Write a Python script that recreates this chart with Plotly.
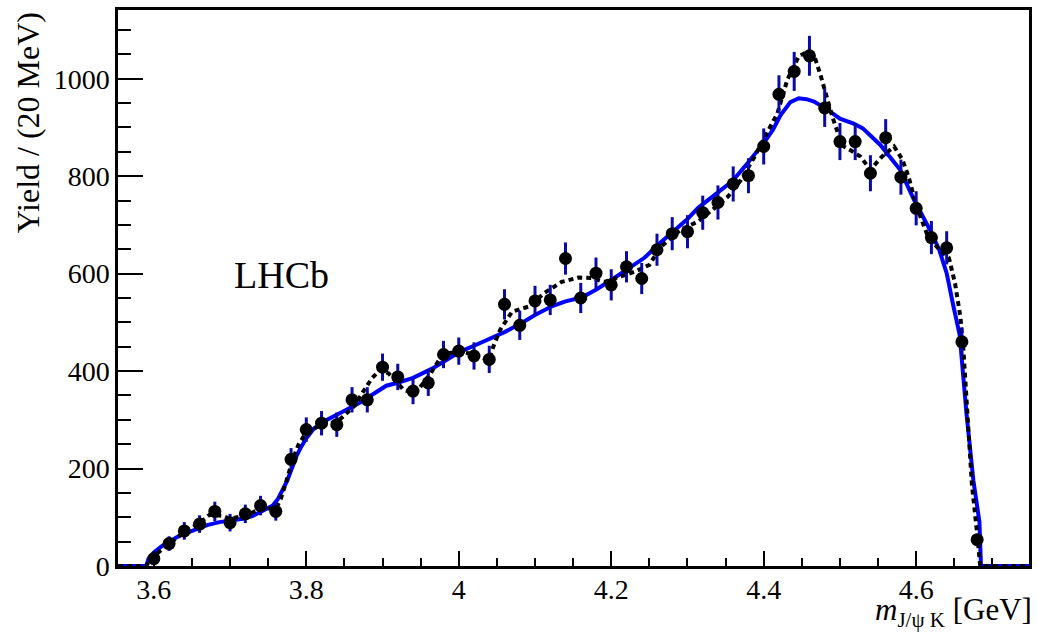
import plotly.graph_objects as go

# ---------------- data ----------------
mass = [3.60, 3.62, 3.64, 3.66, 3.68, 3.70, 3.72, 3.74, 3.76, 3.78,
        3.80, 3.82, 3.84, 3.86, 3.88, 3.90, 3.92, 3.94, 3.96, 3.98,
        4.00, 4.02, 4.04, 4.06, 4.08, 4.10, 4.12, 4.14, 4.16, 4.18,
        4.20, 4.22, 4.24, 4.26, 4.28, 4.30, 4.32, 4.34, 4.36, 4.38,
        4.40, 4.42, 4.44, 4.46, 4.48, 4.50, 4.52, 4.54, 4.56, 4.58,
        4.60, 4.62, 4.64, 4.66, 4.68]
yield_ = [15, 46, 72, 86, 112, 89, 107, 124, 112, 219,
          280, 293, 290, 341, 341, 408, 388, 359, 376, 434,
          441, 431, 424, 537, 494, 544, 546, 631, 550, 601,
          577, 614, 590, 649, 682, 686, 725, 746, 784, 801,
          861, 968, 1015, 1047, 940, 871, 871, 806, 879, 798,
          734, 674, 653, 460, 54]
yield_err = [12, 15, 18, 18, 20, 18, 19, 20, 19, 23,
             25, 25, 25, 26, 26, 28, 27, 27, 27, 28,
             28, 28, 28, 31, 30, 31, 31, 33, 31, 32,
             32, 32, 32, 33, 34, 34, 35, 35, 36, 36,
             37, 39, 40, 41, 39, 38, 38, 37, 38, 36,
             35, 34, 34, 30, 12]

fit_x = [3.553, 3.590, 3.593, 3.600, 3.610, 3.620, 3.630, 3.640, 3.656, 3.670,
         3.686, 3.700, 3.717, 3.730, 3.743, 3.756, 3.763, 3.769, 3.775, 3.780,
         3.787, 3.793, 3.800, 3.810, 3.826, 3.847, 3.870, 3.891, 3.905, 3.920,
         3.940, 3.965, 3.985, 4.002, 4.020, 4.040, 4.060, 4.082, 4.100, 4.122,
         4.140, 4.161, 4.180, 4.200, 4.220, 4.244, 4.261, 4.281, 4.300, 4.314,
         4.340, 4.359, 4.379, 4.400, 4.412, 4.422, 4.435, 4.446, 4.456, 4.466,
         4.484, 4.500, 4.518, 4.530, 4.553, 4.579, 4.597, 4.618, 4.630, 4.640,
         4.649, 4.657, 4.666, 4.675, 4.683, 4.685, 4.748]
fit_y = [0, 0, 15, 28, 40, 50, 59, 66, 76, 84,
         90, 94, 97, 103, 113, 124, 138, 155, 175, 196,
         225, 244, 262, 282, 299, 316, 335, 356, 370, 376,
         386, 405, 425, 440, 452, 466, 480, 498, 515, 533,
         543, 551, 567, 587, 608, 633, 659, 687, 712, 735,
         766, 790, 827, 868, 895, 925, 952, 960, 958, 953,
         936, 918, 908, 898, 864, 813, 752, 690, 650, 601,
         532, 475, 313, 176, 90, 0, 0]

alt_x = [3.553, 3.590, 3.594, 3.600, 3.610, 3.620, 3.640, 3.660, 3.673, 3.690,
         3.700, 3.720, 3.740, 3.760, 3.766, 3.773, 3.782, 3.790, 3.800, 3.820,
         3.840, 3.847, 3.864, 3.873, 3.886, 3.897, 3.908, 3.928, 3.943, 3.963,
         3.974, 3.982, 4.004, 4.021, 4.039, 4.046, 4.054, 4.070, 4.091, 4.113,
         4.135, 4.157, 4.174, 4.191, 4.213, 4.231, 4.250, 4.265, 4.291, 4.314,
         4.335, 4.353, 4.370, 4.388, 4.403, 4.418, 4.431, 4.446, 4.458, 4.468,
         4.475, 4.482, 4.490, 4.497, 4.505, 4.515, 4.527, 4.540, 4.555, 4.571,
         4.582, 4.590, 4.597, 4.606, 4.615, 4.630, 4.643, 4.651, 4.658, 4.662,
         4.667, 4.673, 4.680, 4.684, 4.748]
alt_y = [0, 0, 10, 20, 33, 45, 70, 88, 105, 103,
         97, 104, 117, 118, 135, 170, 217, 250, 274, 290,
         296, 305, 330, 354, 385, 403, 395, 361, 354, 395,
         422, 436, 440, 433, 422, 453, 484, 522, 532, 561,
         583, 592, 591, 583, 594, 604, 618, 655, 690, 707,
         734, 758, 792, 840, 885, 929, 998, 1046, 1056, 1039,
         1005, 964, 922, 890, 861, 852, 840, 813, 840, 861,
         834, 799, 758, 715, 678, 650, 632, 580, 511, 443,
         306, 169, 66, 0, 0]

x_tickvals = [3.6, 3.8, 4.0, 4.2, 4.4, 4.6]
x_ticktext = ["3.6", "3.8", "4", "4.2", "4.4", "4.6"]
y_tickvals = [0, 200, 400, 600, 800, 1000]
y_ticktext = ["0", "200", "400", "600", "800", "1000"]

FONT = "Liberation Serif"

fig = go.Figure()
fig.add_trace(go.Scatter(x=fit_x, y=fit_y, mode="lines",
                         line=dict(color="#0000ff", width=4),
                         hoverinfo="skip", showlegend=False))
fig.add_trace(go.Scatter(x=alt_x, y=alt_y, mode="lines",
                         line=dict(color="black", width=4, dash="5px,4px"),
                         hoverinfo="skip", showlegend=False))
fig.add_trace(go.Scatter(x=mass, y=yield_, mode="markers",
                         marker=dict(color="black", size=13),
                         error_y=dict(type="data", array=yield_err, visible=True,
                                      color="#0a0aa8", thickness=3, width=0),
                         showlegend=False))

fig.update_layout(
    width=1037, height=633,
    margin=dict(l=118, r=5, t=10, b=67),
    paper_bgcolor="white", plot_bgcolor="white",
    font=dict(family=FONT, size=28, color="black"),
    xaxis=dict(range=[3.553, 4.748], showgrid=False, zeroline=False,
               showline=True, linecolor="black", linewidth=2.5, mirror=True,
               ticks="inside", ticklen=15, tickwidth=2, tickcolor="black",
               tickmode="array", tickvals=x_tickvals, ticktext=x_ticktext,
               ticklabelstandoff=-3,
               minor=dict(ticks="inside", ticklen=8, tickwidth=2, tickcolor="black",
                          dtick=0.05, tick0=3.6, showgrid=False),
               tickfont=dict(family=FONT, size=28, color="black")),
    yaxis=dict(range=[0, 1141], showgrid=False, zeroline=False,
               showline=True, linecolor="black", linewidth=2.5, mirror=True,
               ticks="inside", ticklen=25, tickwidth=2, tickcolor="black",
               tickmode="array", tickvals=y_tickvals, ticktext=y_ticktext,
               minor=dict(ticks="inside", ticklen=13, tickwidth=2, tickcolor="black",
                          dtick=50, tick0=0, showgrid=False),
               tickfont=dict(family=FONT, size=28, color="black")),
    annotations=[
        dict(text="Yield / (20 MeV)", textangle=-90, xref="paper", yref="paper",
             x=-0.099, y=1.0, xanchor="center", yanchor="top", showarrow=False,
             font=dict(family=FONT, size=32, color="black")),
        dict(text="<i>m</i><sub><span style='font-size:21px'>J/ψ K</span></sub> [GeV]",
             xref="paper", yref="paper",
             x=1.0, y=-0.044, xanchor="right", yanchor="top", showarrow=False,
             xshift=5, font=dict(family=FONT, size=31, color="black")),
        dict(text="LHCb", xref="x", yref="y", x=3.703, y=597,
             xanchor="left", yanchor="middle", showarrow=False,
             font=dict(family=FONT, size=38, color="black")),
    ],
)

fig.write_html("out.html",
               config={"displayModeBar": False},
               post_script="document.body.style.margin='0px';"
                           "document.body.style.overflow='hidden';")
